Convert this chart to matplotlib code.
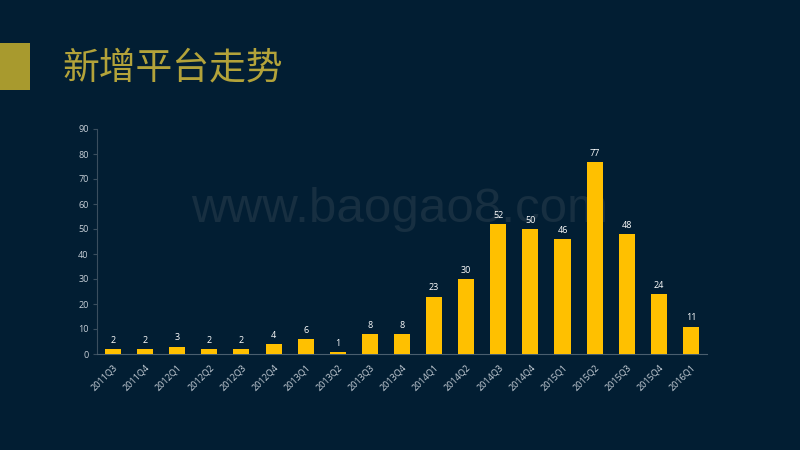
import matplotlib
matplotlib.use("Agg")
import matplotlib.pyplot as plt
from matplotlib.patches import Rectangle

categories = ["2011Q3", "2011Q4", "2012Q1", "2012Q2", "2012Q3", "2012Q4",
              "2013Q1", "2013Q2", "2013Q3", "2013Q4", "2014Q1", "2014Q2",
              "2014Q3", "2014Q4", "2015Q1", "2015Q2", "2015Q3", "2015Q4", "2016Q1"]
values = [2, 2, 3, 2, 2, 4, 6, 1, 8, 8, 23, 30, 52, 50, 46, 77, 48, 24, 11]
yticks = [0, 10, 20, 30, 40, 50, 60, 70, 80, 90]
title = "新增平台走势"
watermark = "www.baogao8.com"

bg = "#021E33"
fig = plt.figure(figsize=(8, 4.5), dpi=100, facecolor=bg)

# title block
fig.patches.append(Rectangle((0, 1 - 90/450), 30/800, 47/450, transform=fig.transFigure,
                             facecolor="#A89A2E", edgecolor="none"))
fig.text(62/800, 1 - 68/450, title, fontsize=26.5, color="#B3A33A",
         family=["Noto Sans CJK SC", "DejaVu Sans"], va="center", ha="left")

# watermark (behind the chart)
fig.text(400/800, 1 - 210/450, watermark, fontsize=35.5, color="#172F41",
         family=["Liberation Sans", "DejaVu Sans"], va="center", ha="center", zorder=0)

ax = fig.add_axes([97/800, 1 - 354/450, 610/800, 225/450], zorder=2)
ax.set_facecolor("none")
x = list(range(len(categories)))
bars = ax.bar(x, values, width=0.5, color="#FFC000", zorder=3)
for xi, v in zip(x, values):
    ax.text(xi, v + 1.6, str(v), ha="center", va="bottom", fontsize=6.5, color="white",
            family=["Open Sans", "DejaVu Sans"])

ax.set_xlim(-0.5, len(categories) - 0.5)
ax.set_ylim(0, 90)
ax.set_yticks(yticks)
ax.set_xticks(x)
ax.set_xticklabels(categories, rotation=45, ha="right", rotation_mode="anchor",
                   fontsize=6.5, color="#C8D0D8", family=["Open Sans", "DejaVu Sans"])
for lab in ax.get_yticklabels():
    lab.set_fontsize(6.5)
    lab.set_color("#C8D0D8")
    lab.set_family(["Open Sans", "DejaVu Sans"])
for s in ["top", "right"]:
    ax.spines[s].set_visible(False)
ax.spines["left"].set_color("#3A4E5E")
ax.spines["bottom"].set_color("#4A5E6E")
ax.tick_params(axis="y", length=3, color="#3A4E5E", pad=3)
ax.tick_params(axis="x", length=0, pad=6)

fig.savefig("out.png", dpi=100, facecolor=bg)
